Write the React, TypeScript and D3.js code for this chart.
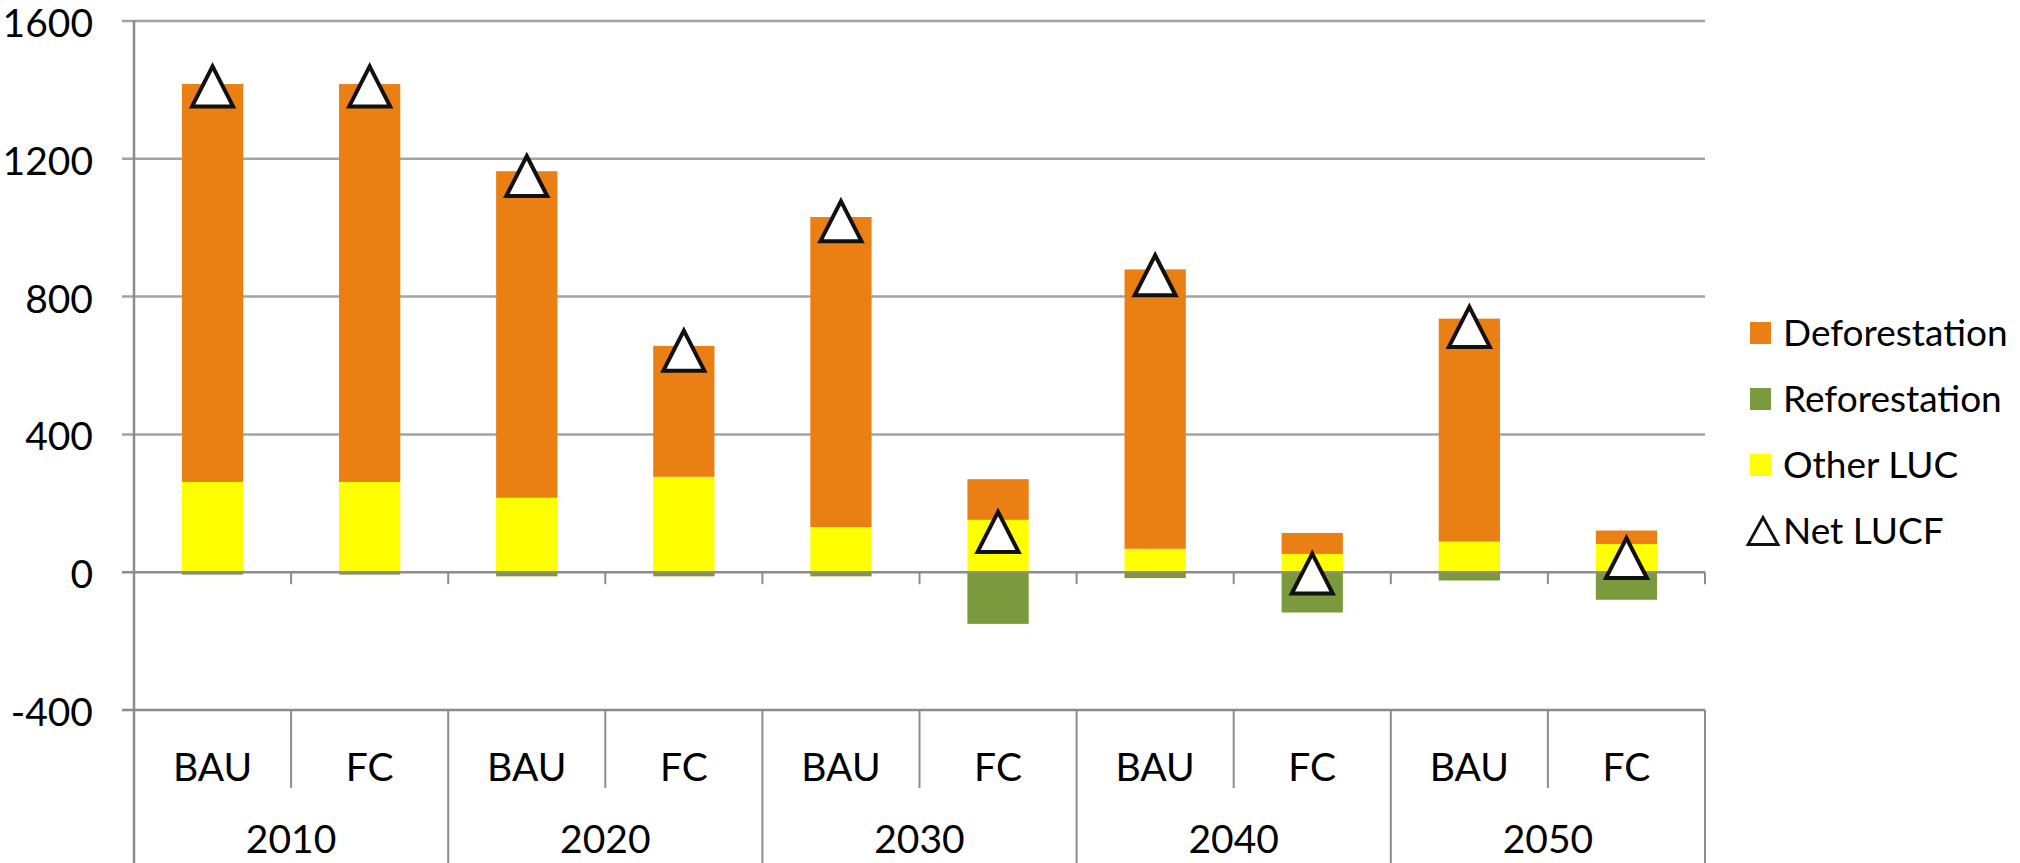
import React from "react";
import * as d3 from "d3";

const years = ["2010", "2020", "2030", "2040", "2050"];
const scenarios = ["BAU", "FC"];
const categories = ["2010 BAU", "2010 FC", "2020 BAU", "2020 FC", "2030 BAU", "2030 FC", "2040 BAU", "2040 FC", "2050 BAU", "2050 FC"];
const otherLUC = [262, 262, 216, 277, 131, 152, 68, 53, 89, 82];
const deforestation = [1155, 1155, 948, 380, 900, 118, 811, 61, 647, 39];
const reforestation = [-7, -7, -12, -12, -12, -150, -17, -117, -24, -80];
const netLUCF = [1410, 1410, 1150, 643, 1019, 117, 862, -4, 712, 41];
const yTicks = [-400, 0, 400, 800, 1200, 1600];
const legendItems = ["Deforestation", "Reforestation", "Other LUC", "Net LUCF"];

const COLORS = {
  defor: "#ea7f14",
  refor: "#7b9a3e",
  other: "#ffff00",
  grid: "#a3a3a3",
  axis: "#8c8c8c",
};

const FONT = "Lato, 'Open Sans', sans-serif";

export default function App() {
  const W = 2020;
  const H = 863;
  const left = 134;
  const right = 1705;
  const x = d3.scaleBand<string>().domain(categories).range([left, right]).padding(0);
  const step = x.step();
  const barW = step * 0.39;
  const y = d3.scaleLinear().domain([-400, 1600]).range([710, 21]);
  const y0 = y(0);
  const catTop = y(-400);

  const tri = (cx: number, cy: number, w: number, h: number) =>
    `M${cx},${cy - h / 2} L${cx + w / 2},${cy + h / 2} L${cx - w / 2},${cy + h / 2} Z`;

  const boundaries = d3.range(1, categories.length + 1).map((i) => left + i * step);

  return (
    <div style={{ position: "absolute", left: 0, top: 0 }}>
      <svg width={W} height={H} style={{ display: "block", background: "#fff" }} fontFamily={FONT}>
        {/* gridlines */}
        {yTicks.filter((t) => t > 0).map((t) => (
          <line key={t} x1={left - 12} x2={right} y1={y(t)} y2={y(t)} stroke={COLORS.grid} strokeWidth={2.5} />
        ))}
        {/* y tick labels */}
        {yTicks.map((t) => (
          <text key={t} x={93} y={y(t) + 16} textAnchor="end" fontSize={39} fill="#000">
            {t}
          </text>
        ))}
        {/* bars: other LUC */}
        {categories.map((c, i) => (
          <rect key={"o" + c} x={x(c)! + (step - barW) / 2} width={barW} y={y(otherLUC[i])} height={y0 - y(otherLUC[i])} fill={COLORS.other} />
        ))}
        {/* deforestation stacked on top */}
        {categories.map((c, i) => (
          <rect key={"d" + c} x={x(c)! + (step - barW) / 2} width={barW}
            y={y(otherLUC[i] + deforestation[i])} height={y(otherLUC[i]) - y(otherLUC[i] + deforestation[i])} fill={COLORS.defor} />
        ))}
        {/* reforestation below */}
        {categories.map((c, i) => (
          <rect key={"r" + c} x={x(c)! + (step - barW) / 2} width={barW} y={y0} height={y(reforestation[i]) - y0} fill={COLORS.refor} />
        ))}
        {/* zero axis line */}
        <line x1={left - 12} x2={right} y1={y0} y2={y0} stroke={COLORS.axis} strokeWidth={2.5} />
        {boundaries.map((bx) => (
          <line key={"t" + bx} x1={bx} x2={bx} y1={y0} y2={y0 + 12} stroke={COLORS.axis} strokeWidth={2} />
        ))}
        {/* left axis */}
        <line x1={left} x2={left} y1={y(1600) - 1} y2={H} stroke={COLORS.axis} strokeWidth={2.5} />
        {/* category box */}
        <line x1={left - 12} x2={right} y1={catTop} y2={catTop} stroke={COLORS.axis} strokeWidth={2.5} />
        {boundaries.map((bx, i) =>
          i % 2 === 1 ? (
            <line key={"g" + bx} x1={bx} x2={bx} y1={catTop} y2={H} stroke={COLORS.axis} strokeWidth={2} />
          ) : (
            <line key={"s" + bx} x1={bx} x2={bx} y1={catTop} y2={788} stroke={COLORS.axis} strokeWidth={2} />
          )
        )}
        {categories.map((c, i) => (
          <text key={"l" + c} x={x(c)! + step / 2} y={781} textAnchor="middle" fontSize={39} fill="#000">
            {scenarios[i % 2]}
          </text>
        ))}
        {years.map((yr, i) => (
          <text key={yr} x={left + (2 * i + 1) * step} y={853} textAnchor="middle" fontSize={39} fill="#000">
            {yr}
          </text>
        ))}
        {/* Net LUCF markers */}
        {categories.map((c, i) => (
          <path key={"n" + c} d={tri(x(c)! + step / 2, y(netLUCF[i]), 41, 40)} fill="#fff" stroke="#111" strokeWidth={4} strokeLinejoin="miter" />
        ))}
        {/* legend */}
        {legendItems.map((name, i) => {
          const cy = 333 + i * 66;
          return (
            <g key={name}>
              {i < 3 ? (
                <rect x={1750} y={cy - 11} width={21} height={22} fill={[COLORS.defor, COLORS.refor, COLORS.other][i]} />
              ) : (
                <path d={tri(1763, cy, 30, 27)} fill="#fff" stroke="#111" strokeWidth={2.8} />
              )}
              <text x={1783} y={cy} dy="0.36em" fontSize={37} fill="#000">
                {name}
              </text>
            </g>
          );
        })}
      </svg>
    </div>
  );
}
